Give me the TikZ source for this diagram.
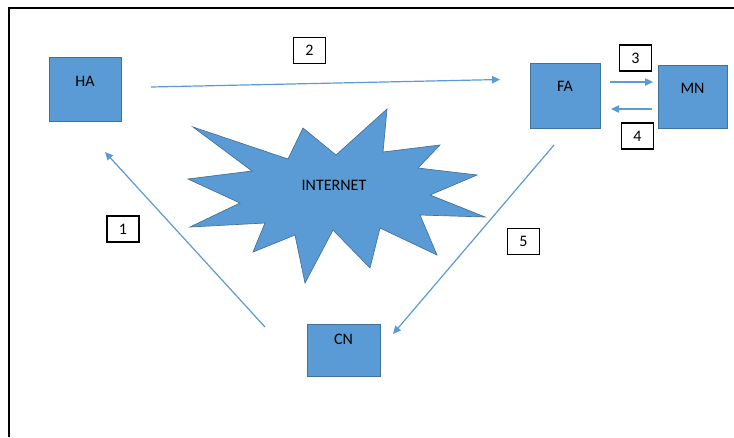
\documentclass[tikz,border=0pt]{standalone}
\usepackage{fontspec}
\setmainfont{Carlito}
\usetikzlibrary{arrows.meta}
\definecolor{officeblue}{HTML}{5B9BD5}
\definecolor{officeedge}{HTML}{41719C}
\begin{document}
\begin{tikzpicture}[x=0.75pt,y=-0.75pt,
  agent/.style={draw=officeedge,fill=officeblue,line width=0.6pt,inner sep=0pt,anchor=north,
    font=\fontsize{12}{14}\selectfont,text=black},
  numbox/.style={draw=black,line width=0.8pt,fill=white,inner sep=0pt,minimum width=24pt,minimum height=19.5pt,
    font=\fontsize{12}{14}\selectfont},
  link/.style={draw=officeblue,line width=0.9pt,-{Triangle[length=6pt,width=5.5pt]}}]
\useasboundingbox (0,0) rectangle (734,437);
% frame
\draw[line width=1.5pt] (8.5,437) |- (734,8);
% agents
\node[agent,minimum width=72*0.75pt,text height=29*0.75pt,text depth=35*0.75pt] (HA) at (85,57) {HA};
\node[agent,minimum width=70*0.75pt,text height=28*0.75pt,text depth=37*0.75pt] (FA) at (565,63) {FA};
\node[agent,minimum width=69*0.75pt,text height=28*0.75pt,text depth=35*0.75pt] (MN) at (692.5,65) {MN};
\node[agent,minimum width=73*0.75pt,text height=20*0.75pt,text depth=32*0.75pt] (CN) at (343.5,324) {CN};
% internet starburst
\draw[draw=officeedge,fill=officeblue,line width=0.5pt,line join=miter]
  (193,127) -- (288,159) -- (303,128) -- (336,155) -- (387,109) -- (383,152) -- (440,145)
  -- (418,168) -- (477,175) -- (430,195) -- (485,217) -- (420,215) -- (437,255) -- (380,228)
  -- (370,268) -- (333,230) -- (305,283) -- (295,235) -- (253,252) -- (265,223) -- (190,227)
  -- (240,203) -- (188,179) -- (252,171) -- cycle;
\node[font=\fontsize{12}{14}\selectfont] (NET) at (334,185) {INTERNET};
% connector end points
\coordinate (a2s) at (151,87);
\coordinate (a2e) at (500,79.5);
\coordinate (a3s) at (610,82);
\coordinate (a3e) at (653,82);
\coordinate (a4s) at (652,109);
\coordinate (a4e) at (611,109);
\coordinate (a1s) at (265,327);
\coordinate (a1e) at (105,152);
\coordinate (a5s) at (554,145);
\coordinate (a5e) at (393,334);
\draw[link] (a2s) -- (a2e);
\draw[link] (a3s) -- (a3e);
\draw[link] (a4s) -- (a4e);
\draw[link] (a1s) -- (a1e);
\draw[link] (a5s) -- (a5e);
% number labels
\node[numbox] (n1) at (123,229) {1};
\node[numbox] (n2) at (309.5,50.5) {2};
\node[numbox] (n3) at (635.5,58) {3};
\node[numbox] (n4) at (637.5,136) {4};
\node[numbox] (n5) at (523.5,241.5) {5};
\end{tikzpicture}
\end{document}
